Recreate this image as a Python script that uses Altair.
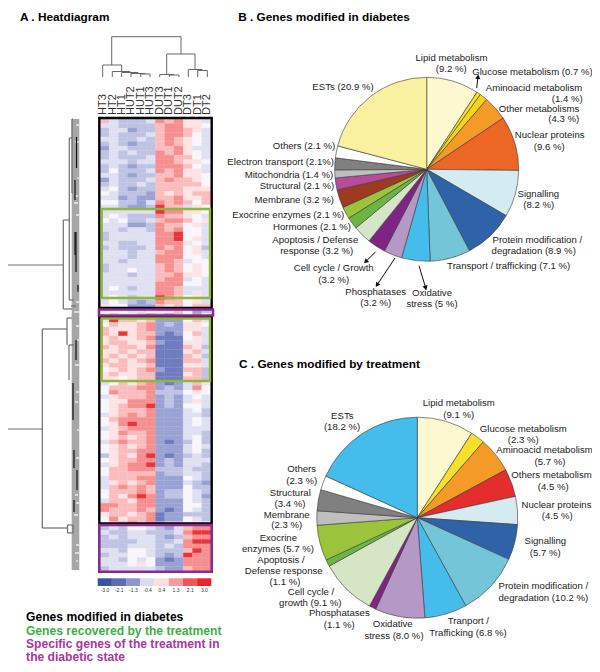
import math
import altair as alt
import pandas as pd

# ---------- data ----------
columns = ["HT3","HT2","HT1","HUT2","HUT1","HUT3","DUT3","DUT1","DUT2","DT3","DT1","DT2"]
levels = ["#4558a8","#6f7dbf","#9aa2d4","#bfc3e3","#dfe0f1","#f8f6fa","#fde3e3","#fbbcbd","#f58f90","#e8353a"]
heat = [
"743334878664","443333788665","344233788764","343334788754","443343787654","343233787654",
"244333778644","343433878654","343334887754","444344887665","343233888754","353334878664",
"443233778665","243334787765","343343777775","453233777666","543332767677","442322778667",
"553324878757","443223977465","444444988665","454333877654","545334788756","444223877564",
"443443878554","344444889554","344444889564","443344888654","343334878563","444344788564",
"444344888554","443444887455","344444787565","344544787565","444344778665","444444788454",
"444444888554","454344887444","444444887464","454344987564","454323877564","655222767577",
"555445667523",
"676678323585","697767222574","576678232665","766678222664","769677212574","676678111564",
"677667211664","767768111763","667677111674","676767111763","767678111774","677667111664",
"567678211773","676677111673","665677111773","457678212476","577788232485","587778333565",
"467778232454","566888232464","567889232554","567778222453","467878222443","578888222454",
"568988222454","467888222444","568778222443","567678222453","478778212353","567678222454",
"567788222453","367689212343","567788232444","467889232443","577888333433","577777233443",
"477788222543","467678222432","478787222533","577787233543","576898233542","477688222543",
"887788222553","877787212543","677678122333","586778122543","577878233564",
"343554324788","433443334899","343444323788","333344334899","333444343888",
"443554333798","344554323988","443545212888","444565222888","344444322788",
]
bar_labels = ["-3.0","-2.1","-1.3","-0.4","0.4","1.3","2.1","3.0"]
bar_colors = ["#3953a4","#5c6db5","#8f96cc","#d8daee","#fddede","#f79b9c","#ed5558","#e8262a"]

pie_b_names = ["Lipid metabolism","Glucose metabolism","Aminoacid metabolism","Other metabolisms","Nuclear proteins",
  "Signalling","Protein modification / degradation","Transport / trafficking","Oxidative stress","Phosphatases",
  "Cell cycle / Growth","Apoptosis / Defense response","Hormones","Exocrine enzymes","Membrane","Structural",
  "Mitochondria","Electron transport","Others","ESTs"]
pie_b_values = [9.2,0.7,1.4,4.3,9.6,8.2,8.9,7.1,5,3.2,3.2,3.2,2.1,2.1,3.2,2.1,1.4,2.1,2.1,20.9]
pie_b_colors = ["#fdf8d0","#f5e12b","#fdd117","#f39a27","#ec6625","#d3ebf1","#2f63a9","#74c5d8","#45bdea","#b498c5",
  "#7d2484","#d5e5c5","#6cb545","#9cc33c","#9e3a1f","#b84b9a","#bfbfbf","#808080","#ffffff","#f9f0a0"]

pie_c_names = ["Lipid metabolism","Glucose metabolism","Aminoacid metabolism","Others metabolism","Nuclear proteins",
  "Signalling","Protein modification / degradation","Transport / Trafficking","Oxidative stress","Phosphatases",
  "Cell cycle / growth","Apoptosis / Defense response","Exocrine enzymes","Membrane","Structural","Others","ESTs"]
pie_c_values = [9.1,2.3,5.7,4.5,4.5,5.7,10.2,6.8,8.0,1.1,9.1,1.1,5.7,2.3,3.4,2.3,18.2]
pie_c_colors = ["#fdf8d0","#f5e12b","#f39a27","#e52d2d","#d3ebf1","#2f63a9","#74c5d8","#45bdea","#b498c5","#7d2484",
  "#d5e5c5","#6cb545","#9cc33c","#bfbfbf","#808080","#ffffff","#45bdea"]

# ---------- layout (reference pixel coordinates) ----------
OFF = 8
labels = [
 ("Lipid metabolism",451.5,57.7),("(9.2 %)",451.3,69),("Glucose metabolism (0.7 %)",532.5,72.3),
 ("Aminoacid metabolism",534,88.3),("(1.4 %)",567.3,98.5),("Other metabolisms",539,109),("(4.3 %)",563.7,119.3),
 ("Nuclear proteins",549.7,135),("(9.6 %)",549.3,146.7),("Signalling",538.3,193.7),("(8.2 %)",538.7,205),
 ("Protein modification /",537.3,240),("degradation (8.9 %)",533.7,251.3),("Transport / trafficking (7.1 %)",508.7,265.7),
 ("Oxidative",432,292.7),("stress (5 %)",432,304.3),("Phosphatases",375.7,292),("(3.2 %)",375.7,303.3),
 ("Cell cycle / Growth",333.7,268),("(3.2 %)",333.7,279.7),("Apoptosis / Defense",315.3,240),("response (3.2 %)",316.7,251.3),
 ("Hormones (2.1 %)",312,226.7),("Exocrine enzymes (2.1 %)",288.3,215),("Membrane (3.2 %)",294.3,200.3),
 ("Structural (2.1 %)",297,185.7),("Mitochondria (1.4 %)",289,174.7),("Electron transport (2.1%)",280.7,162.3),
 ("Others (2.1 %)",304,146),("ESTs (20.9 %)",343,86.7),
 ("Lipid metabolism",458.7,403.3),("(9.1 %)",458.7,415),("Glucose metabolism",523.3,429),("(2.3 %)",523.3,440.3),
 ("Aminoacid metabolism",544.5,450.3),("(5.7 %)",550,462),("Others metabolism",551.5,475),("(4.5 %)",553.3,486.7),
 ("Nuclear proteins",556.5,504.7),("(4.5 %)",557.3,516.3),("Signalling",545.3,541.3),("(5.7 %)",545.3,553),
 ("Protein modification /",543.3,586),("degradation (10.2 %)",543.3,597.7),("Tranport /",468.3,621),
 ("Trafficking (6.8 %)",468,632.7),("Oxidative",392.7,624),("stress (8.0 %)",394,635.7),("Phosphatases",339.3,613),
 ("(1.1 %)",339.3,625),("Cell cycle /",311,592),("growth (9.1 %)",310.3,603),("Apoptosis /",281,560),
 ("Defense response",283.7,571),("(1.1 %)",285,582),("Exocrine",278.3,538),("enzymes (5.7 %)",278,549.3),
 ("Membrane",286.7,514.5),("(2.3 %)",286.7,525.3),("Structural",290.3,493),("(3.4 %)",290,504),("Others",301.7,469.3),
 ("(2.3 %)",301.7,480.7),("ESTs",342.3,415.7),("(18.2 %)",342,427.3),
]
titles = [("A . Heatdiagram",64.7,16.5),("B . Genes modified in diabetes",324,16.5),("C . Genes modified by treatment",329.5,364)]
notes = [("Genes modified in diabetes",104.7,617,"#000000"),("Genes recovered by the treatment",123.7,630.5,"#3fae49"),
         ("Specific genes of the treatment in",122.8,644,"#a8389a"),("the diabetic state",75.5,657,"#a8389a")]
col_x = [103.3,112.7,121.7,131,140.7,150,159.7,169.3,179,188.3,197.7,207.3]
bar_lab_x = [105,119.2,133.4,147.6,161.8,176,190.2,204.4]

# dendrogram pieces: (x, x2, y, y2)
col_tree = [
 (111.7,181,36.7,36.7),(111.7,111.7,36.7,65),(181,181,36.7,54),
 (102.7,121.7,65,65),(102.7,102.7,65,77),(121.7,121.7,65,71.5),
 (112.3,130,71.5,71.5),(112.3,112.3,71.5,77),(130,130,71.5,72.5),
 (121.7,138,72.5,72.5),(121.7,121.7,72.5,77),(138,138,72.5,73.5),
 (131,145,73.5,73.5),(131,131,73.5,77),(145,145,73.5,74),
 (140.7,150,74,74),(140.7,140.7,74,77),(150,150,74,77),
 (166.7,195,54,54),(166.7,166.7,54,74.5),(195,195,54,69.5),
 (159.7,174,74.5,74.5),(159.7,159.7,74.5,77),(169.3,179,75,75),(169.3,169.3,75,77),(179,179,75,77),
 (188.3,202,69.5,69.5),(188.3,188.3,69.5,77),(202,202,69.5,70.5),
 (197.7,207.3,70.5,70.5),(197.7,197.7,70.5,77),(207.3,207.3,70.5,77),
]
row_tree = [
 (2.3,2.3,265,429),(2.3,63.3,265,265),(2.3,42.3,429,429),
 (63.3,63.3,220,309),(63.3,69.3,220,220),(63.3,68,309,309),
 (69.3,69.3,138,300),(69.3,72,138,138),(69.3,74,300,300),(68,72,309,309),(71,76,306,306),
 (42.3,42.3,329,528),(42.3,67,329,329),(42.3,67.5,528,528),
 (67,67,318,345),(67,72,318,318),(69,69,345,380),(69,74,345,345),(72,72,119,193),(72,73,119,119),(72,73,193,193),
 (67.5,67.5,525,533),(67.5,73,525,525),(67.5,73,533,533),(73,73,525,533),
]
row_tree_dark = [(76.5,76.5,137,168),(75,75,180,200),(76,76,232,272),(75,75,232,255),(78,78,285,292),
                 (73,73,383,420),(74,74,450,468),(77,77,470,490),(74,74,500,512),(76,76,340,360)]
leaf_band = [(71.7,79.3,119,570)]
leaf_flecks = [(76,79,125),(75,79,142),(77,79,178),(75,78,196),(74,78,203),(76,79,215),(77,79,291),(76,79,302),
               (74,79,312),(76,79,326),(77,79,340),(75,79,365),(76,79,392),(75,78,402),(77,79,430),(76,79,458),
               (75,78,495),(76,79,503),(74,78,515),(76,79,545),(75,79,553),(76,78,561)]
frames_black = [(99.3,211.7,118,308),(99.3,211.7,317,523.5)]
frames_green = [(101.7,210,209,298),(101.7,210,318.5,381)]
frames_purple = [(99,213,309.5,315.5),(99.3,211.7,525,571.7)]
arrows = [(476.7,88,478,76.7),(375.7,251.7,365.7,261.7),(395,258,377,285),(419,265.7,425.7,288)]


def shift(rows, names):
    df = pd.DataFrame(rows, columns=names)
    for c in names:
        if c.startswith("x") or c.startswith("y"):
            df[c] = df[c] - OFF
    return df

X = lambda f="x": alt.X(f"{f}:Q", scale=None, axis=None)
Y = lambda f="y": alt.Y(f"{f}:Q", scale=None, axis=None)

def text_layer(rows, size, color="#222222", weight="normal"):
    df = shift(rows, ["t", "x", "y"])
    return alt.Chart(df).mark_text(font="Liberation Sans", fontSize=size, color=color, fontWeight=weight,
                                   align="center", baseline="middle").encode(x=X(), y=Y(), text="t:N")

def segs(rows, color, w):
    df = shift(rows, ["x", "x2", "y", "y2"])
    return alt.Chart(df).mark_rule(color=color, strokeWidth=w).encode(
        x=X(), x2=alt.X2("x2:Q"), y=Y(), y2=alt.Y2("y2:Q"))

def frame(rows, color, w):
    df = shift(rows, ["x", "x2", "y", "y2"])
    return alt.Chart(df).mark_rect(fillOpacity=0, stroke=color, strokeWidth=w).encode(
        x=X(), x2=alt.X2("x2:Q"), y=Y(), y2=alt.Y2("y2:Q"))

def pie(names, values, colors, cx, cy, r):
    df = pd.DataFrame({"n": names, "v": values, "c": colors, "i": range(len(names))})
    total = float(sum(values))
    return alt.Chart(df).mark_arc(radius=r, stroke="#3a3a3a", strokeWidth=0.6).encode(
        theta=alt.Theta("v:Q", stack=True, scale=alt.Scale(domain=[0, total], range=[0, 2 * math.pi])),
        order=alt.Order("i:Q"),
        color=alt.Color("c:N", scale=None),
        x=alt.value(cx - OFF), y=alt.value(cy - OFF))

# heat map cells
cells = [{"c": j, "c2": j + 1, "r": i, "r2": i + 1, "f": levels[int(ch)]}
         for i, row in enumerate(heat) for j, ch in enumerate(row)]
heat_chart = alt.Chart(pd.DataFrame(cells)).mark_rect(strokeWidth=0.3).encode(
    x=alt.X("c:Q", axis=None, scale=alt.Scale(domain=[0, 12], range=[100 - OFF, 211 - OFF])),
    x2=alt.X2("c2:Q"),
    y=alt.Y("r:Q", axis=None, scale=alt.Scale(domain=[0, len(heat)], range=[119 - OFF, 571 - OFF])),
    y2=alt.Y2("r2:Q"),
    color=alt.Color("f:N", scale=None), stroke=alt.Stroke("f:N", scale=None))

# colour bar
bar_df = pd.DataFrame({"k": range(8), "k2": range(1, 9), "f": bar_colors, "t": bar_labels, "xt": bar_lab_x})
bar_df["xt"] = bar_df["xt"] - OFF
bar_chart = alt.Chart(bar_df).mark_rect().encode(
    x=alt.X("k:Q", axis=None, scale=alt.Scale(domain=[0, 8], range=[97.7 - OFF, 211.3 - OFF])),
    x2=alt.X2("k2:Q"),
    y=alt.value(578.3 - OFF), y2=alt.value(586 - OFF),
    color=alt.Color("f:N", scale=None))
bar_text = alt.Chart(bar_df).mark_text(font="Liberation Sans", fontSize=5, color="#333333", baseline="middle").encode(
    x=alt.X("xt:Q", scale=None, axis=None), y=alt.value(589.5 - OFF), text="t:N")

# column labels
col_df = pd.DataFrame({"t": columns, "x": col_x})
col_df["x"] = col_df["x"] - OFF
col_text = alt.Chart(col_df).mark_text(font="Liberation Sans", fontSize=11, color="#333333", angle=270,
                                       align="left", baseline="middle").encode(
    x=X(), y=alt.value(115 - OFF), text="t:N")

# leaf band of row dendrogram
band = alt.Chart(shift(leaf_band, ["x", "x2", "y", "y2"])).mark_rect(color="#a6a6a6").encode(
    x=X(), x2=alt.X2("x2:Q"), y=Y(), y2=alt.Y2("y2:Q"))
flecks = alt.Chart(shift(leaf_flecks, ["x", "x2", "y"])).mark_rule(color="#ffffff", strokeWidth=1.2).encode(
    x=X(), x2=alt.X2("x2:Q"), y=Y())

# arrows
arrow_rows = [(a, b, c, d, (math.degrees(math.atan2(d - b, c - a)) + 90) % 360) for a, b, c, d in arrows]
arrow_df = shift(arrow_rows, ["x", "y", "x2", "y2", "a"])
arrow_line = alt.Chart(arrow_df).mark_rule(color="#111111", strokeWidth=1).encode(
    x=X(), x2=alt.X2("x2:Q"), y=Y(), y2=alt.Y2("y2:Q"))
arrow_head = alt.Chart(arrow_df).mark_point(shape="triangle-up", filled=True, color="#111111", opacity=1, size=28).encode(
    x=X("x2"), y=Y("y2"), angle=alt.Angle("a:Q", scale=None))

note_layers = [text_layer([(t, x, y)], 12.1, color=c, weight="bold") for t, x, y, c in notes]

chart = alt.layer(
    heat_chart,
    band, flecks,
    segs(row_tree, "#6e6e6e", 1.2), segs(row_tree_dark, "#111111", 1.2),
    segs(col_tree, "#666666", 1),
    frame(frames_black, "#000000", 2.4), frame(frames_green, "#8db83c", 2.4), frame(frames_purple, "#8a2a8f", 2.6),
    bar_chart, bar_text, col_text,
    pie(pie_b_names, pie_b_values, pie_b_colors, 426.7, 169.3, 92),
    pie(pie_c_names, pie_c_values, pie_c_colors, 417.3, 517.7, 100.5),
    arrow_line, arrow_head,
    text_layer(labels, 9.6),
    text_layer(titles, 11.8, color="#000000", weight="bold"),
    *note_layers,
).resolve_scale(x="independent", y="independent").properties(
    width=584, height=656, padding=0, autosize=alt.AutoSizeParams(type="none")
).configure_view(stroke=None)

chart.save("out.html", embed_options={"renderer": "svg", "actions": False})
